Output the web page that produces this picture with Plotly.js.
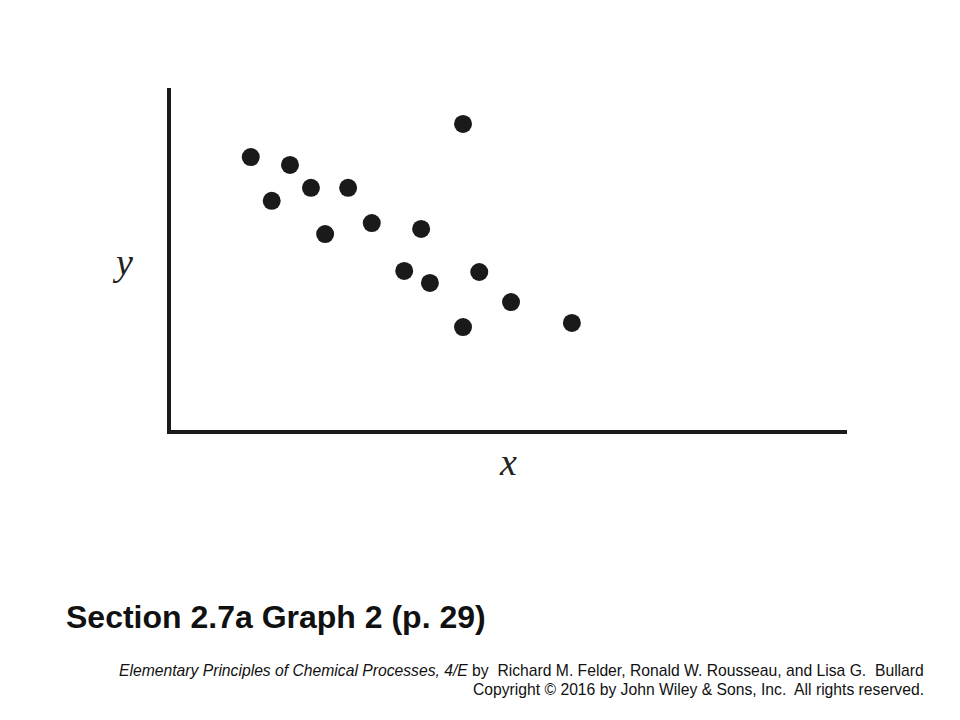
<!DOCTYPE html>
<html>
<head>
<meta charset="utf-8">
<script src="https://cdn.plot.ly/plotly-3.0.1.min.js"></script>
<style>html,body{margin:0;padding:0;background:#fff;}#chart{width:960px;height:720px;}</style>
</head>
<body>
<div id="chart"></div>
<script>
// Data (arbitrary units, axes 0-100)
const xValues = [11.8, 17.6, 14.9, 20.7, 26.2, 22.8, 29.7, 37.0, 43.2, 34.5, 38.3, 45.6, 50.3, 43.2, 59.3];
const yValues = [79.8, 77.5, 67.0, 70.8, 70.8, 57.3, 60.5, 58.8, 89.5, 46.5, 43.0, 46.2, 37.4, 30.1, 31.3];
const xLabel = 'x';
const yLabel = 'y';
const chartTitle = 'Section 2.7a Graph 2 (p. 29)';
const footerLine1 = '<i>Elementary Principles of Chemical Processes, 4/E</i> by  Richard M. Felder, Ronald W. Rousseau, and Lisa G.  Bullard';
const footerLine2 = 'Copyright © 2016 by John Wiley &amp; Sons, Inc.  All rights reserved.';

const trace = {
  x: xValues, y: yValues, type: 'scatter', mode: 'markers',
  marker: {size: 18, color: '#1a1a1a'},
  hoverinfo: 'none'
};

const plotL = 171, plotR = 113, plotT = 88, plotB = 290;
const plotW = 960 - plotL - plotR, plotH = 720 - plotT - plotB;
function paperY(py) { return (720 - plotB - py) / plotH; }
function paperX(px) { return (px - plotL) / plotW; }

const footFont = {family: 'Liberation Sans Narrow, Liberation Sans, Arial, sans-serif', size: 15.7, color: '#111'};
const serifFont = {family: 'Liberation Serif, Times New Roman, serif', size: 38, color: '#222'};

const layout = {
  width: 960, height: 720,
  margin: {l: plotL, r: plotR, t: plotT, b: plotB},
  paper_bgcolor: '#ffffff', plot_bgcolor: '#ffffff',
  showlegend: false,
  title: {
    text: '<b>' + chartTitle + '</b>',
    xref: 'container', yref: 'container',
    x: 66/960, xanchor: 'left', y: 1 - 617/720, yanchor: 'middle',
    font: {family: 'Liberation Sans, Arial, sans-serif', size: 32, color: '#111'}
  },
  xaxis: {
    range: [0, 100], showgrid: false, zeroline: false, showticklabels: false, ticks: '',
    showline: true, linewidth: 4, linecolor: '#1a1a1a'
  },
  yaxis: {
    range: [0, 100], showgrid: false, zeroline: false, showticklabels: false, ticks: '',
    showline: true, linewidth: 4, linecolor: '#1a1a1a'
  },
  annotations: [
    {xref: 'paper', yref: 'paper', x: paperX(508), y: paperY(462), showarrow: false, xanchor: 'center', yanchor: 'middle',
     text: '<i>' + xLabel + '</i>', font: serifFont},
    {xref: 'paper', yref: 'paper', x: paperX(122), y: paperY(262), showarrow: false, xanchor: 'center', yanchor: 'middle',
     text: '<i>' + yLabel + '</i>', font: serifFont},
    {xref: 'paper', yref: 'paper', x: paperX(926), y: paperY(670), showarrow: false, xanchor: 'right', yanchor: 'middle', align: 'right',
     text: footerLine1, font: footFont},
    {xref: 'paper', yref: 'paper', x: paperX(926), y: paperY(689), showarrow: false, xanchor: 'right', yanchor: 'middle', align: 'right',
     text: footerLine2, font: footFont}
  ]
};

Plotly.newPlot('chart', [trace], layout, {displayModeBar: false, staticPlot: true});
</script>
</body>
</html>
